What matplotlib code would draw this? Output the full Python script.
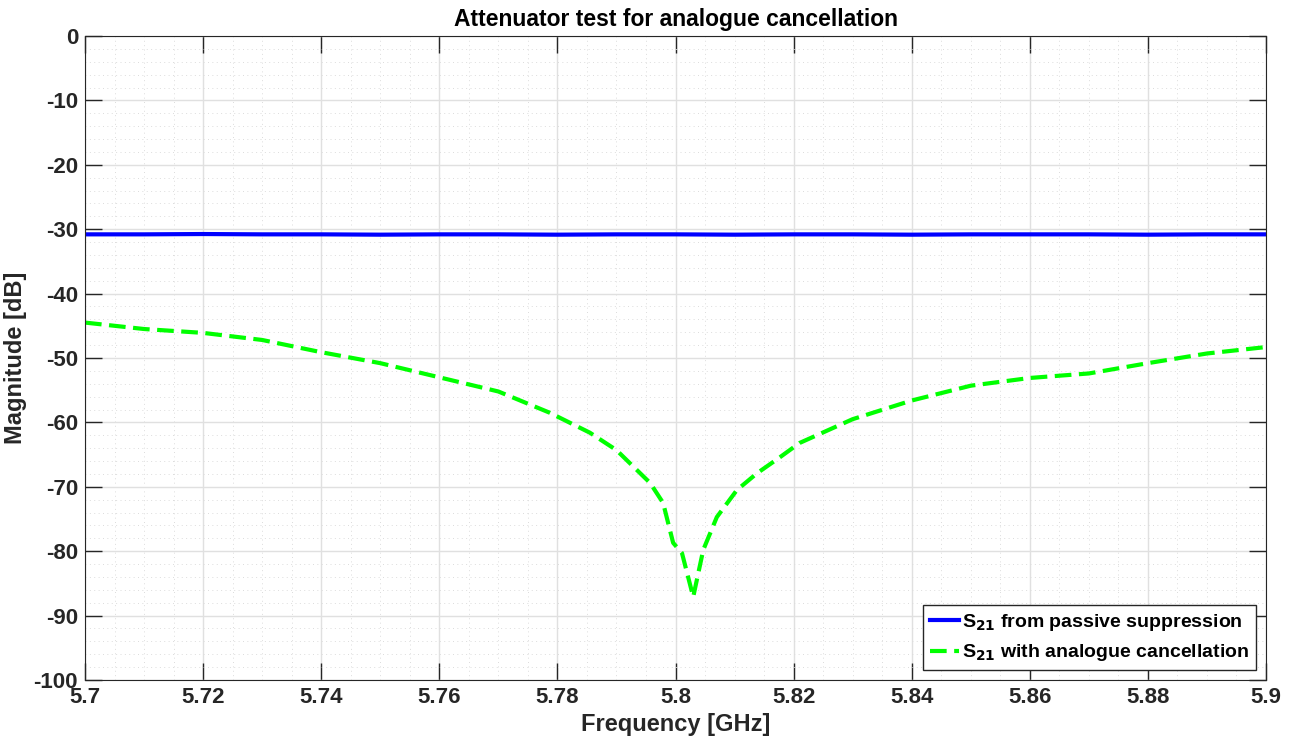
import matplotlib
matplotlib.use("Agg")
import matplotlib.pyplot as plt
from matplotlib.ticker import MultipleLocator

plt.rcParams['font.family'] = ['Liberation Sans', 'DejaVu Sans']
plt.rcParams['font.weight'] = 'bold'
plt.rcParams['axes.unicode_minus'] = False
plt.rcParams['mathtext.default'] = 'bf'

freq_blue = [5.70, 5.71, 5.72, 5.73, 5.74, 5.75, 5.76, 5.77, 5.78, 5.79, 5.80, 5.81,
             5.82, 5.83, 5.84, 5.85, 5.86, 5.87, 5.88, 5.89, 5.90]
s21_passive = [-30.8, -30.8, -30.75, -30.8, -30.8, -30.85, -30.8, -30.8, -30.85, -30.8, -30.8,
               -30.85, -30.8, -30.8, -30.85, -30.8, -30.8, -30.8, -30.85, -30.8, -30.8]

freq_green = [5.700, 5.710, 5.720, 5.730, 5.740, 5.750, 5.760, 5.770, 5.7787, 5.7855,
              5.790, 5.7957, 5.7979, 5.7996, 5.8011, 5.803, 5.8047, 5.807, 5.8104, 5.8138,
              5.8177, 5.821, 5.830, 5.840, 5.850, 5.860, 5.870, 5.880, 5.890, 5.900]
s21_cancel = [-44.5, -45.5, -46.1, -47.2, -49.1, -50.8, -53.0, -55.2, -58.5, -61.6,
              -64.3, -69.4, -72.5, -78.7, -80.3, -87.1, -79.8, -74.7, -70.5, -67.9,
              -65.4, -63.2, -59.5, -56.6, -54.3, -53.1, -52.4, -50.8, -49.3, -48.3]

fig = plt.figure(figsize=(12.91, 7.46), dpi=100)
ax = fig.add_axes([85/1291, 1 - 680/746, (1266-85)/1291, (680-36)/746])

ax.plot(freq_blue, s21_passive, color='#0000ff', lw=3, label=r'S$_{21}$ from passive suppression')
ax.plot(freq_green, s21_cancel, color='#00ff00', lw=3, ls='--', dashes=(4, 1.8),
        label=r'S$_{21}$ with analogue cancellation')

ax.set_xlim(5.7, 5.9)
ax.set_ylim(-100, 0)
ax.xaxis.set_minor_locator(MultipleLocator(0.005))
ax.yaxis.set_minor_locator(MultipleLocator(2))
ax.set_xticks([5.70, 5.72, 5.74, 5.76, 5.78, 5.80, 5.82, 5.84, 5.86, 5.88, 5.90])
ax.set_xticklabels(['5.7', '5.72', '5.74', '5.76', '5.78', '5.8', '5.82', '5.84', '5.86', '5.88', '5.9'])
ax.set_yticks(list(range(-100, 1, 10)))
ax.set_yticklabels([str(v) for v in range(-100, 1, 10)])
ax.grid(which='major', color='#e0e0e0', lw=1, ls='-')
ax.grid(which='minor', color='#dcdcdc', lw=0.7, ls=(0, (1, 3.5)))
ax.set_axisbelow(True)
ax.tick_params(which='major', direction='in', length=12, top=True, right=True,
               labelsize=16, colors='#262626', width=1)
ax.tick_params(axis='x', pad=5)
ax.tick_params(axis='y', pad=5)
ax.tick_params(which='minor', length=0)
for lab in ax.get_xticklabels() + ax.get_yticklabels():
    lab.set_fontweight('bold')
for sp in ax.spines.values():
    sp.set_color('#262626')

ax.set_xlabel('Frequency [GHz]', fontsize=17, fontweight='bold', color='#262626', labelpad=4)
ax.set_ylabel('Magnitude [dB]', fontsize=17, fontweight='bold', color='#262626', labelpad=5)
ax.set_title('Attenuator test for analogue cancellation', fontsize=16.5, fontweight='bold', pad=7)

leg = ax.legend(loc='lower right', fontsize=14, handlelength=1.5, handletextpad=0.15,
                borderpad=0.35, labelspacing=0.5, fancybox=False, framealpha=1,
                edgecolor='#262626', borderaxespad=0.5)
leg.get_frame().set_linewidth(1)
for t in leg.get_texts():
    t.set_fontweight('bold')

fig.savefig('out.png', dpi=100)
